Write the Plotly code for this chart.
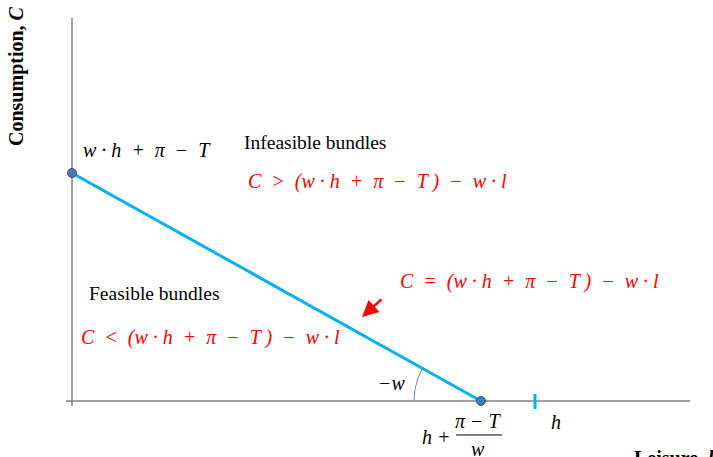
import numpy as np
import plotly.graph_objects as go

# ---- data (economic quantities) ----
h = 24.0          # time endowment
w = 10.0          # wage
pi_ = 20.0        # non-labour income
T = 48.0          # lump-sum tax
C_max = w * h + pi_ - T            # consumption intercept
l_max = h + (pi_ - T) / w          # leisure intercept
line_l = [0.0, l_max]
line_C = [C_max, 0.0]

W, H = 713, 457
ox, oy = 72, 401                   # pixel position of origin
sx = (535 - ox) / h                # px per leisure unit
sy = (oy - 173) / C_max            # px per consumption unit

def px(x):   # paper x from pixel
    return x / W
def py(y):   # paper y from pixel
    return 1 - y / H

fig = go.Figure()

axis_col = "#808080"
# axes
fig.add_trace(go.Scatter(x=[-6 / sx, (690 - ox) / sx], y=[0, 0], mode="lines",
                         line=dict(color=axis_col, width=1.5), hoverinfo="skip"))
fig.add_trace(go.Scatter(x=[0, 0], y=[-5 / sy, (oy - 18) / sy], mode="lines",
                         line=dict(color=axis_col, width=1.5), hoverinfo="skip"))
# h tick
fig.add_trace(go.Scatter(x=[h, h], y=[-8 / sy, 7 / sy], mode="lines",
                         line=dict(color="#00B0F0", width=3), hoverinfo="skip"))
# budget line
fig.add_trace(go.Scatter(x=line_l, y=line_C, mode="lines",
                         line=dict(color="#00B0F0", width=3), hoverinfo="skip"))
fig.add_trace(go.Scatter(x=line_l, y=line_C, mode="markers",
                         marker=dict(size=9, color="#4F75B8", line=dict(color="#2F4F8A", width=1)),
                         hoverinfo="skip"))
# angle arc at the leisure intercept
ang = np.arctan2(C_max * sy, l_max * sx)
t = np.linspace(0, ang, 30)
r = 67
arc_x = l_max - r * np.cos(t) / sx
arc_y = r * np.sin(t) / sy
fig.add_trace(go.Scatter(x=arc_x, y=arc_y, mode="lines",
                         line=dict(color="#5B8DC9", width=1), hoverinfo="skip"))

serif = "Liberation Serif"
red = "#FF0000"
ann = []
def txt(x, y, s, size=17, color="black", anchor="left", italic=False, bold=False, angle=0):
    if italic:
        s = "<i>" + s + "</i>"
    if bold:
        s = "<b>" + s + "</b>"
    ann.append(dict(x=px(x), y=py(y), xref="paper", yref="paper", text=s, showarrow=False,
                    xanchor=anchor, yanchor="middle", textangle=angle,
                    font=dict(family=serif, size=size, color=color)))

sp = "&nbsp;"
MS = 20
txt(81, 150, f"w · h {sp}+{sp} π {sp}−{sp} T", size=MS, italic=True)
txt(242, 143, "Infeasible bundles", size=19.5)
txt(246, 181, f"C {sp}&gt;{sp} (w · h {sp}+{sp} π {sp}−{sp} T ) {sp}−{sp} w · l", size=MS, color=red, italic=True)
txt(398, 281, f"C {sp}={sp} (w · h {sp}+{sp} π {sp}−{sp} T ) {sp}−{sp} w · l", size=MS, color=red, italic=True)
txt(87, 293, "Feasible bundles", size=19.5)
txt(79, 337, f"C {sp}&lt;{sp} (w · h {sp}+{sp} π {sp}−{sp} T ) {sp}−{sp} w · l", size=MS, color=red, italic=True)
txt(376, 383, "−w", size=MS, italic=True)
txt(420, 437, "h +", size=MS, italic=True)
txt(479, 421, "π − T", size=MS, italic=True, anchor="center")
txt(478, 449, "w", size=MS, italic=True, anchor="center")
txt(549, 422, "h", size=MS, italic=True)
txt(632, 458, "Leisure, <i>l</i>", size=20, bold=True)
txt(17, 76, "Consumption, <i>C</i>", size=20, bold=True, anchor="center", angle=-90)

# red arrow
ann.append(dict(x=px(362), y=py(317), xref="paper", yref="paper", ax=21, ay=-19,
                axref="pixel", ayref="pixel", text="", showarrow=True,
                arrowhead=2, arrowsize=1.3, arrowwidth=2.5, arrowcolor=red))

fig.update_layout(
    width=W, height=H, margin=dict(l=0, r=0, t=0, b=0),
    paper_bgcolor="white", plot_bgcolor="white", showlegend=False,
    xaxis=dict(range=[-ox / sx, (W - ox) / sx], visible=False, fixedrange=True),
    yaxis=dict(range=[-(H - oy) / sy, oy / sy], visible=False, fixedrange=True),
    annotations=ann,
    shapes=[dict(type="line", xref="paper", yref="paper", x0=px(456), x1=px(502),
                 y0=py(435), y1=py(435), line=dict(color="black", width=1.2))],
)

fig.write_html("out.html", config={"displayModeBar": False},
               post_script="document.body.style.margin='0px';")
